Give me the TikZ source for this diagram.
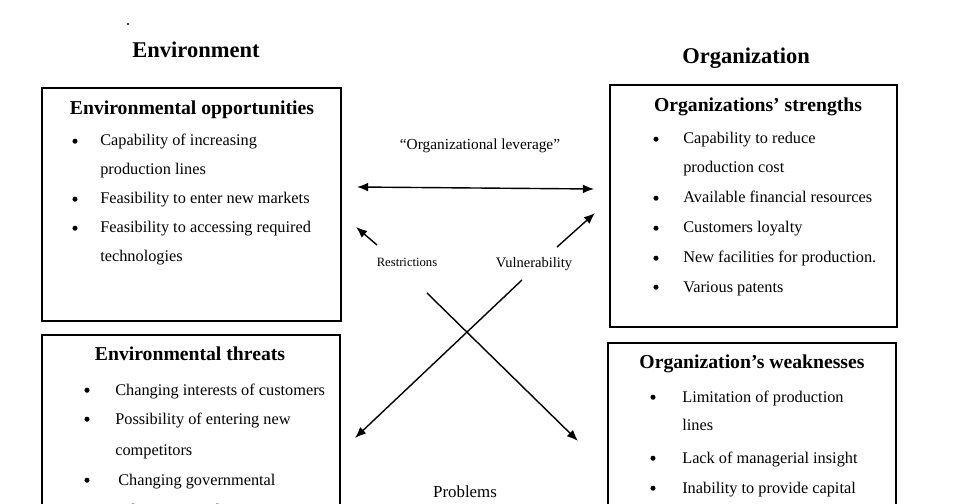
\documentclass[tikz,border=0pt]{standalone}
\usepackage{fontspec}
\setmainfont{Liberation Serif}
\usetikzlibrary{arrows.meta}
\tikzset{
	heading/.style={font=\fontsize{16}{18}\selectfont\bfseries, anchor=base, inner sep=0pt},
	boxtitle/.style={font=\fontsize{14}{16}\selectfont\bfseries, anchor=base, inner sep=0pt},
	item/.style={font=\fontsize{11.6}{13}\selectfont, anchor=base west, inner sep=0pt},
	bul/.style={circle, fill, inner sep=0pt, minimum size=3.6pt, yshift=3.4pt},
	lbl/.style={anchor=base, inner sep=0pt},
	panel/.style={draw, line width=0.8pt},
	link/.style={line width=1pt, >={Latex[length=2.8mm, width=2.2mm]}},
}

\begin{document}
\begin{tikzpicture}[x=0.025cm, y=-0.025cm]
		%%%%% START %%%%%
		\clip (0, 0) rectangle (960, 504);
		
		\fill (128, 24) circle (1.2);
		\node[heading] (env) at (196, 58) {Environment};
		\node[heading] (org) at (746, 64) {Organization};
		
		% environmental opportunities
		\draw[panel] (42, 88) rectangle (341, 321);
		\node[boxtitle] (eot) at (192, 115) {Environmental opportunities};
		\node[bul] (eob1) at (75, 146) {};
		\node[item] (eo1) at (100, 146) {Capability of increasing};
		\node[item] (eo2) at (100, 175) {production lines};
		\node[bul] (eob3) at (75, 204) {};
		\node[item] (eo3) at (100, 204) {Feasibility to enter new markets};
		\node[bul] (eob4) at (75, 233) {};
		\node[item] (eo4) at (100, 233) {Feasibility to accessing required};
		\node[item] (eo5) at (100, 262) {technologies};
		
		% organizations' strengths
		\draw[panel] (610, 85) rectangle (897, 327);
		\node[boxtitle] (ost) at (758, 112) {Organizations' strengths};
		\node[bul] (osb1) at (656, 144) {};
		\node[item] (os1) at (683, 144) {Capability to reduce};
		\node[item] (os2) at (683, 173) {production cost};
		\node[bul] (osb3) at (656, 203) {};
		\node[item] (os3) at (683, 203) {Available financial resources};
		\node[bul] (osb4) at (656, 233) {};
		\node[item] (os4) at (683, 233) {Customers loyalty};
		\node[bul] (osb5) at (656, 263) {};
		\node[item] (os5) at (683, 263) {New facilities for production.};
		\node[bul] (osb6) at (656, 292) {};
		\node[item] (os6) at (683, 292) {Various patents};
		
		% environmental threats
		\draw[panel] (42, 335) rectangle (340, 530);
		\node[boxtitle] (ett) at (190, 360) {Environmental threats};
		\node[bul] (etb1) at (87, 395) {};
		\node[item] (et1) at (115, 395) {Changing interests of customers};
		\node[bul] (etb2) at (87, 424) {};
		\node[item] (et2) at (115, 424) {Possibility of entering new};
		\node[item] (et3) at (115, 455) {competitors};
		\node[bul] (etb4) at (87, 485) {};
		\node[item] (et4) at (118, 485) {Changing governmental};
		\node[item] (et5) at (115, 515) {policies \& regulations};
		
		% organization's weaknesses
		\draw[panel] (608, 343) rectangle (896, 530);
		\node[boxtitle] (owt) at (752, 368) {Organization's weaknesses};
		\node[bul] (owb1) at (653, 402) {};
		\node[item] (ow1) at (682, 402) {Limitation of production};
		\node[item] (ow2) at (682, 430) {lines};
		\node[bul] (owb3) at (653, 463) {};
		\node[item] (ow3) at (682, 463) {Lack of managerial insight};
		\node[bul] (owb4) at (653, 493) {};
		\node[item] (ow4) at (682, 493) {Inability to provide capital};
		
		% arrows
		\coordinate (levl) at (357, 187);
		\coordinate (levr) at (594, 189);
		\coordinate (resa) at (377, 245);
		\coordinate (resb) at (356, 227);
		\coordinate (vula) at (557, 247);
		\coordinate (vulb) at (595, 213);
		\coordinate (cra) at (427, 293);
		\coordinate (crb) at (578, 441);
		\coordinate (crc) at (522, 280);
		\coordinate (crd) at (355, 438);
		
		\draw[link, <->] (levl) -- (levr);
		\draw[link, ->] (resa) -- (resb);
		\draw[link, ->] (vula) -- (vulb);
		\draw[link, ->] (cra) -- (crb);
		\draw[link, ->] (crc) -- (crd);
		
		\node[lbl, font=\fontsize{10.9}{12}\selectfont] (lev) at (480, 150) {``Organizational leverage''};
		\node[lbl, font=\fontsize{9}{10}\selectfont] (res) at (407, 267) {Restrictions};
		\node[lbl, font=\fontsize{10.3}{12}\selectfont] (vul) at (534, 268) {Vulnerability};
		\node[lbl, font=\fontsize{12}{13}\selectfont] (prob) at (465, 497) {Problems};
		
		%%%%% END %%%%%
\end{tikzpicture}
\end{document}
